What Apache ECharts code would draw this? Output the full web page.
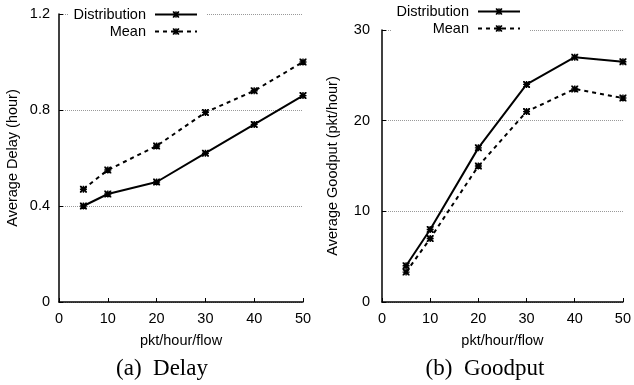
<!DOCTYPE html>
<html><head><meta charset="utf-8">
<script src="https://cdn.jsdelivr.net/npm/echarts@6/dist/echarts.min.js"></script>
<style>html,body{margin:0;padding:0;background:#fff}#c{width:634px;height:385px}</style>
</head><body><div id="c"></div>
<script>
const xValues = [5, 10, 20, 30, 40, 50];
const delayDistribution = [0.40, 0.45, 0.50, 0.62, 0.74, 0.86];
const delayMean = [0.47, 0.55, 0.65, 0.79, 0.88, 1.00];
const goodputDistribution = [4, 8, 17, 24, 27, 26.5];
const goodputMean = [3.3, 7, 15, 21, 23.5, 22.5];
const seriesNames = ['Distribution', 'Mean'];
const captions = ['(a)  Delay', '(b)  Goodput'];
const xLabel = 'pkt/hour/flow';
const yLabels = ['Average Delay (hour)', 'Average Goodput (pkt/hour)'];

const star = 'path://M0,0 L2,0 L5,3 L8,0 L10,0 L10,2 L7,5 L10,8 L10,10 L8,10 L5,7 L2,10 L0,10 L0,8 L3,5 L0,2 Z M4,0 L6,0 L6,4 L10,4 L10,6 L6,6 L6,10 L4,10 L4,6 L0,6 L0,4 L4,4 Z';
const F = 'Liberation Sans, Arial, sans-serif';
const FS = 14.5;
const pair = (xs, ys) => xs.map((x, i) => [x, ys[i]]);

function xAxis(gi) {
  return {
    gridIndex: gi, type: 'value', min: 0, max: 50, interval: 10,
    name: xLabel, nameLocation: 'middle', nameGap: 31,
    nameTextStyle: {fontFamily: F, fontSize: FS, color: '#000'},
    axisLine: {lineStyle: {color: '#000', width: 1.5}},
    axisTick: {inside: true, length: 4, lineStyle: {color: '#000'}},
    axisLabel: {fontFamily: F, fontSize: FS, color: '#000', margin: 9},
    splitLine: {show: false}
  };
}
function yAxis(gi, max, interval, name, margin, gap) {
  return {
    gridIndex: gi, type: 'value', min: 0, max: max, interval: interval,
    name: name, nameLocation: 'middle', nameGap: gap,
    nameTextStyle: {fontFamily: F, fontSize: FS, color: '#000'},
    axisLine: {show: true, lineStyle: {color: '#000', width: 1.5}},
    axisTick: {show: true, inside: true, length: 4, lineStyle: {color: '#000'}},
    axisLabel: {fontFamily: F, fontSize: FS, color: '#000', margin: margin,
      formatter: v => interval < 1 ? (v === 0 ? '0' : v.toFixed(1)) : String(v)},
    splitLine: {show: true, lineStyle: {color: '#999', type: [1, 1], width: 1}}
  };
}
function series(name, gi, data, dashed) {
  return {
    name: name, type: 'line', xAxisIndex: gi, yAxisIndex: gi,
    data: data, symbol: star, symbolSize: 7, showSymbol: true,
    itemStyle: {color: '#000'},
    lineStyle: {color: '#000', width: 2, type: dashed ? [4, 4] : 'solid'},
    animation: false
  };
}
function legend(left, top, padding) {
  return {
    orient: 'vertical', align: 'right', left: left, top: top,
    data: seriesNames, itemWidth: 42, itemHeight: 8, itemGap: 2,
    backgroundColor: '#fff', padding: padding,
    textStyle: {fontFamily: F, fontSize: FS, color: '#000', width: 76, align: 'right',
      lineHeight: 14, padding: [0, 4, 0, 0]},
    selectedMode: false
  };
}

const chart = echarts.init(document.getElementById('c'));
chart.setOption({
  animation: false,
  grid: [
    {left: 59, right: 331, top: 14, bottom: 83},
    {left: 382, right: 9, top: 30, bottom: 83}
  ],
  xAxis: [xAxis(0), xAxis(1)],
  yAxis: [yAxis(0, 1.2, 0.4, yLabels[0], 9, 39), yAxis(1, 30, 10, yLabels[1], 12, 42)],
  legend: [
    legend(68, 5, [2, 8, 2, 2]),
    legend(391, 2, [2, 9, 2, 2])
  ],
  title: [
    {text: captions[0], left: 162, top: 357, textAlign: 'center',
     textStyle: {fontFamily: 'Liberation Serif, Times New Roman, serif', fontSize: 23, fontWeight: 'normal', color: '#000'}, padding: 0},
    {text: captions[1], left: 485, top: 357, textAlign: 'center',
     textStyle: {fontFamily: 'Liberation Serif, Times New Roman, serif', fontSize: 23, fontWeight: 'normal', color: '#000'}, padding: 0}
  ],
  series: [
    series(seriesNames[0], 0, pair(xValues, delayDistribution), false),
    series(seriesNames[1], 0, pair(xValues, delayMean), true),
    series(seriesNames[0], 1, pair(xValues, goodputDistribution), false),
    series(seriesNames[1], 1, pair(xValues, goodputMean), true)
  ]
});
</script></body></html>
